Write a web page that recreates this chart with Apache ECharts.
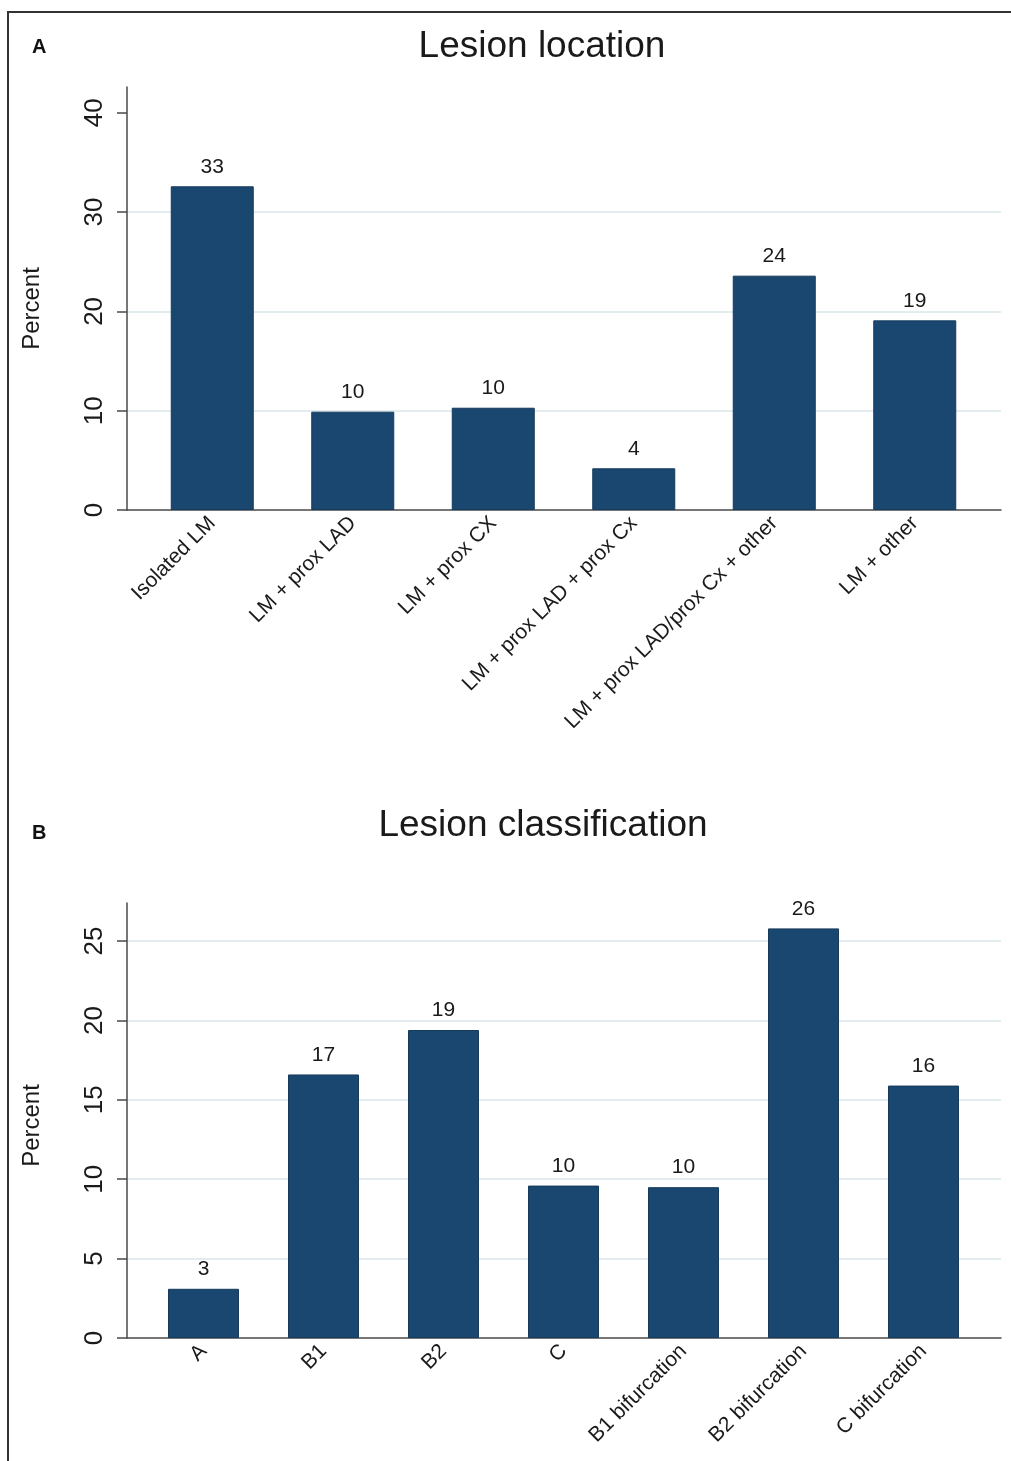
<!DOCTYPE html>
<html>
<head>
<meta charset="utf-8">
<title>Lesion location and classification</title>
<script src="https://cdn.jsdelivr.net/npm/echarts@6/dist/echarts.min.js"></script>
<style>
  html, body { margin: 0; padding: 0; background: #ffffff; }
  #chart { width: 1011px; height: 1461px; }
</style>
</head>
<body>
<div id="chart"></div>
<script>
// Panel A: lesion location (percent of patients)
const locationCats = ['Isolated LM', 'LM + prox LAD', 'LM + prox CX', 'LM + prox LAD + prox Cx', 'LM + prox LAD/prox Cx + other', 'LM + other'];
const locationPct = [32.6, 9.9, 10.3, 4.2, 23.6, 19.1];
const locationTicks = [0, 10, 20, 30, 40];

// Panel B: lesion classification (percent of patients)
const classCats = ['A', 'B1', 'B2', 'C', 'B1 bifurcation', 'B2 bifurcation', 'C bifurcation'];
const classPct = [3.1, 16.6, 19.4, 9.6, 9.5, 25.8, 15.9];
const classTicks = [0, 5, 10, 15, 20, 25];

const FONT = '"Liberation Sans", Arial, Helvetica, sans-serif';
const INK = '#1a1a1a';
const AXIS = '#4a4a4a';
const GRID = '#e3edef';
const NAVY = '#1a476f';

function frameXAxis(gridIndex) {
  return {
    gridIndex, type: 'value', min: 0, max: 1,
    axisLine: { show: true, lineStyle: { color: AXIS, width: 1.5 } },
    axisTick: { show: false }, axisLabel: { show: false }, splitLine: { show: false }
  };
}

function catXAxis(gridIndex, data) {
  return {
    gridIndex, type: 'category', data,
    axisLine: { show: false }, axisTick: { show: false },
    axisLabel: { interval: 0, rotate: 45, margin: 10, fontSize: 21, color: INK, fontFamily: FONT }
  };
}

function frameYAxis(gridIndex, max, ticks, showMaxLine, namePad) {
  return {
    gridIndex, type: 'value', min: 0, max,
    name: 'Percent', nameLocation: 'middle', nameRotate: 90, nameGap: 83,
    nameTextStyle: { fontSize: 24, color: INK, fontFamily: FONT, padding: namePad },
    axisLine: { show: true, lineStyle: { color: AXIS, width: 1.5 } },
    axisTick: { show: true, inside: false, length: 10, customValues: ticks, lineStyle: { color: AXIS, width: 1.5 } },
    axisLabel: { customValues: ticks, rotate: 90, margin: 19, fontSize: 26, color: INK, fontFamily: FONT },
    splitLine: { show: true, showMinLine: false, showMaxLine, lineStyle: { color: GRID, width: 2 } }
  };
}

function hiddenYAxis(gridIndex, max) {
  return { gridIndex, type: 'value', min: 0, max, show: false, splitLine: { show: false } };
}

function barSeries(axisIndex, data, width) {
  return {
    type: 'bar', xAxisIndex: axisIndex, yAxisIndex: axisIndex, data,
    barWidth: width,
    itemStyle: { color: NAVY, borderColor: '#153a5c', borderWidth: 1 },
    label: {
      show: true, position: 'top', distance: 9,
      formatter: p => String(Math.round(p.value)),
      fontSize: 21, color: INK, fontFamily: FONT
    },
    silent: true, animation: false
  };
}

const chart = echarts.init(document.getElementById('chart'), null, { renderer: 'canvas' });

chart.setOption({
  backgroundColor: '#ffffff',
  animation: false,
  textStyle: { fontFamily: FONT },
  title: [
    { text: 'Lesion location', left: 537, top: 23, textAlign: 'center',
      textStyle: { fontSize: 37, fontWeight: 'normal', color: INK, fontFamily: FONT } },
    { text: 'Lesion classification', left: 538, top: 802, textAlign: 'center',
      textStyle: { fontSize: 37, fontWeight: 'normal', color: INK, fontFamily: FONT } },
    { text: 'A', left: 27, top: 32,
      textStyle: { fontSize: 20, fontWeight: 'bold', color: '#111', fontFamily: FONT } },
    { text: 'B', left: 27, top: 818,
      textStyle: { fontSize: 20, fontWeight: 'bold', color: '#111', fontFamily: FONT } }
  ],
  graphic: [
    { type: 'polyline', silent: true,
      shape: { points: [[8, 1461], [8, 12], [1011, 12]] },
      style: { stroke: '#333', lineWidth: 2, fill: null } }
  ],
  grid: [
    { left: 127, right: 10, top: 87, bottom: 951 },
    { left: 142, right: 26, top: 87, bottom: 951 },
    { left: 127, right: 10, top: 903, bottom: 123 },
    { left: 143.5, right: 27.5, top: 903, bottom: 123 }
  ],
  xAxis: [
    frameXAxis(0),
    catXAxis(1, locationCats),
    frameXAxis(2),
    catXAxis(3, classCats)
  ],
  yAxis: [
    frameYAxis(0, 42.6, locationTicks, false, [0, 20, 0, 0]),
    hiddenYAxis(1, 42.6),
    frameYAxis(2, 27.4, classTicks, true, [0, 10, 0, 0]),
    hiddenYAxis(3, 27.4)
  ],
  series: [
    barSeries(1, locationPct, 83),
    barSeries(3, classPct, 71)
  ]
});
</script>
</body>
</html>
